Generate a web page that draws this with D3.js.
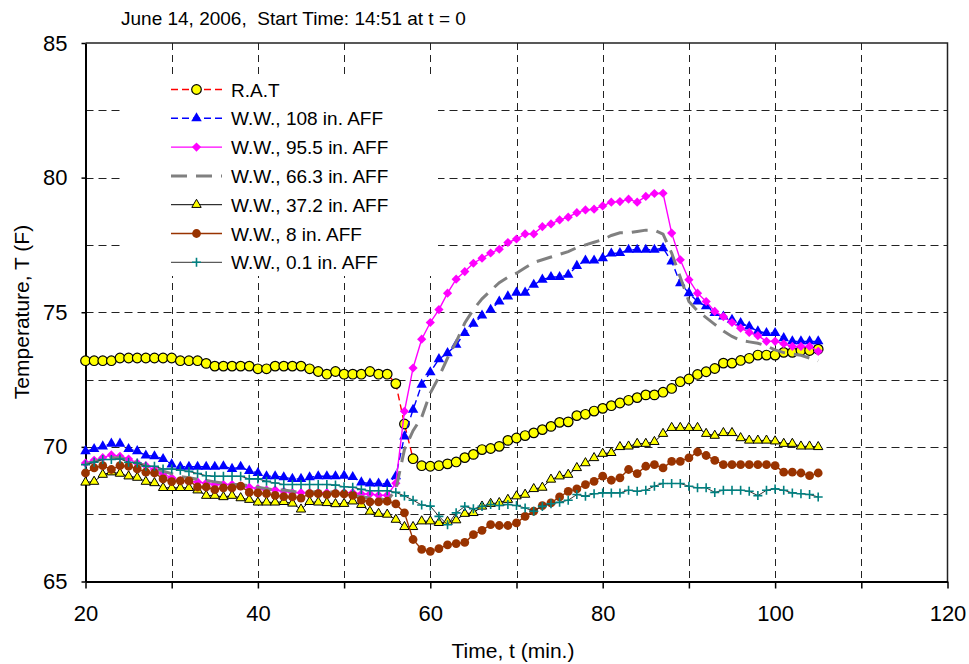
<!DOCTYPE html>
<html>
<head>
<meta charset="utf-8">
<script src="https://cdn.jsdelivr.net/npm/d3@7"></script>
<style>
  body { margin: 0; background: #fff; }
  text { font-family: Arial, "Liberation Sans", sans-serif; fill: #000; }
</style>
</head>
<body>
<svg id="chart" width="969" height="664"></svg>
<script>
// sample times, minutes after start
var times = [20,21,22,23,24,25,26,27,28,29,30,31,32,33,34,35,36,37,38,39,
  40,41,42,43,44,45,46,47,48,49,50,51,52,53,54,55,56,57,58,59,
  60,61,62,63,64,65,66,67,68,69,70,71,72,73,74,75,76,77,78,79,
  80,81,82,83,84,85,86,87,88,89,90,91,92,93,94,95,96,97,98,99,
  100,101,102,103,104,105]

// temperatures (F)
var rat = [73.2,73.2,73.2,73.2,73.3,73.3,73.3,73.3,73.3,73.3,
  73.3,73.2,73.2,73.2,73.1,73.0,73.0,73.0,73.0,73.0,
  72.9,72.9,73.0,73.0,73.0,73.0,72.9,72.8,72.7,72.8,
  72.7,72.7,72.7,72.8,72.7,72.7,72.35,70.85,69.56,69.3,
  69.28,69.3,69.37,69.44,69.6,69.72,69.9,69.94,70.02,70.24,
  70.33,70.42,70.52,70.64,70.76,70.91,70.93,71.16,71.21,71.33,
  71.43,71.53,71.63,71.73,71.83,71.93,71.93,72.03,72.17,72.42,
  72.52,72.69,72.79,72.91,73.11,73.11,73.21,73.29,73.41,73.41,
  73.41,73.51,73.51,73.58,73.58,73.63]

var ww108 = [69.84,69.92,70.02,70.12,70.12,69.92,69.84,69.68,69.65,69.55,
  69.35,69.26,69.26,69.26,69.26,69.26,69.28,69.18,69.26,69.11,
  69.03,68.91,68.91,68.87,68.81,68.81,68.87,68.91,68.91,68.91,
  68.93,68.88,68.68,68.64,68.64,68.62,68.91,70.39,71.38,72.31,
  72.77,73.26,73.48,73.79,74.23,74.57,74.88,75.09,75.40,75.59,
  75.73,75.73,76.02,76.21,76.31,76.31,76.39,76.72,76.92,76.92,
  77.01,77.18,77.20,77.32,77.32,77.32,77.32,77.38,76.89,76.08,
  75.71,75.40,75.22,74.97,74.84,74.72,74.60,74.47,74.29,74.23,
  74.23,74.04,73.92,73.92,73.92,73.92]

var ww955 = [69.4,69.5,69.6,69.7,69.65,69.55,69.4,69.3,69.15,69.0,
  68.85,68.75,68.7,68.7,68.65,68.6,68.6,68.6,68.55,68.5,
  68.45,68.4,68.4,68.35,68.3,68.3,68.3,68.3,68.3,68.3,
  68.3,68.3,68.25,68.25,68.2,68.2,68.65,71.32,72.93,74.0,
  74.62,75.1,75.71,76.23,76.51,76.82,77.01,77.2,77.34,77.59,
  77.72,77.91,77.91,78.18,78.28,78.43,78.53,78.7,78.8,78.83,
  78.95,79.09,79.11,79.2,79.09,79.3,79.41,79.42,77.94,76.95,
  76.21,75.71,75.4,75.03,74.84,74.62,74.41,74.25,74.13,73.92,
  73.92,73.83,73.73,73.73,73.73,73.55]

var ww663 = [69.35,69.45,69.55,69.6,69.6,69.5,69.4,69.3,69.2,69.1,
  69.0,68.9,68.85,68.8,68.75,68.7,68.65,68.6,68.6,68.55,
  68.5,68.45,68.4,68.4,68.35,68.3,68.3,68.35,68.35,68.3,
  68.25,68.2,68.15,68.1,68.1,68.0,68.4,69.9,70.6,71.1,
  72.0,72.6,73.3,73.9,74.6,75.1,75.5,75.8,76.1,76.3,
  76.45,76.65,76.85,76.95,77.05,77.15,77.25,77.4,77.5,77.6,
  77.7,77.85,77.95,77.95,78.0,78.05,78.05,77.9,77.2,76.3,
  75.4,75.05,74.8,74.55,74.3,74.1,73.95,73.9,73.85,73.75,
  73.6,73.5,73.45,73.4,73.3,73.2]

var ww372 = [68.68,68.71,68.97,69.06,69.01,68.91,68.86,68.71,68.66,68.48,
  68.48,68.48,68.48,68.39,68.19,68.19,68.14,68.19,68.10,68.04,
  67.94,67.94,67.94,67.96,67.9,67.68,67.96,67.94,67.92,67.88,
  67.89,67.98,67.85,67.6,67.52,67.49,67.3,67.03,67.03,67.24,
  67.24,67.18,67.22,67.28,67.52,67.55,67.79,67.89,67.92,68.04,
  68.17,68.23,68.44,68.49,68.79,68.91,68.97,69.22,69.4,69.59,
  69.75,69.78,70.0,70.02,70.12,70.12,70.19,70.49,70.71,70.71,
  70.71,70.71,70.49,70.42,70.52,70.52,70.33,70.24,70.24,70.24,
  70.21,70.12,70.12,70.02,70.02,70.0]

var ww8 = [69.03,69.22,69.3,69.16,69.3,69.28,69.18,69.06,69.03,68.81,
  68.71,68.74,68.74,68.51,68.51,68.41,68.48,68.48,68.54,68.31,
  68.29,68.26,68.2,68.15,68.14,68.1,68.26,68.26,68.23,68.26,
  68.25,68.2,68.02,67.96,67.96,67.98,67.88,67.55,66.56,66.19,
  66.12,66.22,66.36,66.41,66.45,66.74,66.9,67.11,67.08,67.08,
  67.18,67.42,67.61,67.82,67.92,68.14,68.35,68.44,68.6,68.72,
  68.91,68.76,68.85,69.16,69.01,69.28,69.34,69.22,69.46,69.46,
  69.59,69.81,69.68,69.5,69.34,69.34,69.34,69.34,69.34,69.34,
  69.3,69.06,69.06,69.03,68.93,69.03]

var ww01 = [69.34,69.43,69.53,69.53,69.55,69.43,69.4,69.28,69.28,69.18,
  69.18,69.13,69.09,69.01,68.93,68.91,68.91,68.91,68.91,68.81,
  68.81,68.72,68.66,68.6,68.6,68.6,68.6,68.6,68.6,68.58,
  68.52,68.5,68.42,68.37,68.37,68.37,68.31,68.18,68.02,67.84,
  67.8,67.42,67.11,67.55,67.79,67.7,67.79,67.86,67.82,67.86,
  67.82,67.73,67.61,67.79,67.89,67.94,68.02,68.23,68.17,68.26,
  68.29,68.29,68.29,68.39,68.35,68.39,68.54,68.64,68.64,68.64,
  68.54,68.48,68.48,68.31,68.39,68.39,68.39,68.35,68.19,68.39,
  68.44,68.39,68.29,68.26,68.23,68.14]

var seriesNames = ["R.A.T", "W.W., 108 in. AFF", "W.W., 95.5 in. AFF", "W.W., 66.3 in. AFF",
  "W.W., 37.2 in. AFF", "W.W., 8 in. AFF", "W.W., 0.1 in. AFF"]

var xTicks = [20,30,40,50,60,70,80,90,100,110,120]
var yTicks = [65,70,75,80,85]
var xGrid = [30,40,50,60,70,80,90,100,110]
var yGrid = [67.5,70,72.5,75,77.5,80,82.5]

// how each series is drawn (same order as the names)
var diamond = "M0,-4.6L4.6,0L0,4.6L-4.6,0Z"
var plus = "M-4.5,0H4.5M0,-4.5V4.5"
var styles = [
  {values: rat,   line: "#ff0000", width: 1.4, dash: "7,4",  marker: "circle",  fill: "#ffff00", mstroke: "#000"},
  {values: ww108, line: "#0000ff", width: 1.4, dash: "7,4",  marker: "tri",     fill: "#0000ff", mstroke: "none", size: 48},
  {values: ww955, line: "#ff00ff", width: 1.4, dash: null,   marker: "diamond", fill: "#ff00ff", mstroke: "none"},
  {values: ww663, line: "#808080", width: 3,   dash: "16,9", marker: null},
  {values: ww372, line: "#000000", width: 1,   dash: null,   marker: "tri",     fill: "#ffff00", mstroke: "#000", size: 38},
  {values: ww8,   line: "#993300", width: 1.4, dash: null,   marker: "dot",     fill: "#993300", mstroke: "none"},
  {values: ww01,  line: "#333333", width: 1,   dash: null,   marker: "plus",    fill: "none",    mstroke: "#008080"}
]

var svg = d3.select("#chart")

var x = d3.scaleLinear().domain([20, 120]).range([85.5, 947.5])
var y = d3.scaleLinear().domain([65, 85]).range([581.5, 43])

// grid
svg.append("g").selectAll("line").data(xGrid).join("line")
  .attr("x1", function(d) { return Math.round(x(d)) + 0.5 }).attr("x2", function(d) { return Math.round(x(d)) + 0.5 })
  .attr("y1", y(85)).attr("y2", y(65))
  .attr("stroke", "#222").attr("stroke-width", 1).attr("stroke-dasharray", "7,5")
svg.append("g").selectAll("line").data(yGrid).join("line")
  .attr("y1", function(d) { return Math.round(y(d)) + 0.5 }).attr("y2", function(d) { return Math.round(y(d)) + 0.5 })
  .attr("x1", x(20)).attr("x2", x(120))
  .attr("stroke", "#222").attr("stroke-width", 1).attr("stroke-dasharray", "8,5")

// frame (top and right)
svg.append("path")
  .attr("d", "M" + x(20) + "," + y(85) + "H" + x(120) + "V" + y(65))
  .attr("fill", "none").attr("stroke", "#222").attr("stroke-width", 1.5)

// legend background hides the grid behind it
svg.append("rect").attr("x", 124).attr("y", 75).attr("width", 314).attr("height", 201).attr("fill", "#fff")

// axes
var xAxis = d3.axisBottom(x).tickValues(xTicks).tickSize(7).tickSizeOuter(0).tickPadding(17)
  .tickFormat(function(d) { return d % 20 === 0 ? d : "" })
var gx = svg.append("g").attr("transform", "translate(0," + y(65) + ")").call(xAxis)
gx.select(".domain").attr("stroke-width", 2)
gx.selectAll(".tick line").attr("stroke-width", 1.5)
gx.selectAll("text").attr("font-size", 22).attr("font-family", "Arial, 'Liberation Sans', sans-serif")

var yAxis = d3.axisLeft(y).tickValues(yTicks).tickSize(4).tickSizeOuter(0).tickPadding(14)
var gy = svg.append("g").attr("transform", "translate(" + x(20) + ",0)").call(yAxis)
gy.select(".domain").attr("stroke-width", 2)
gy.selectAll(".tick line").attr("stroke-width", 1.5)
gy.selectAll("text").attr("font-size", 22).attr("font-family", "Arial, 'Liberation Sans', sans-serif")

// markers
function drawMarker(g, s, cx, cy) {
  if (s.marker === "circle") {
    g.append("circle").attr("cx", cx).attr("cy", cy).attr("r", 4.8)
      .attr("fill", s.fill).attr("stroke", s.mstroke).attr("stroke-width", 1.2)
  } else if (s.marker === "dot") {
    g.append("circle").attr("cx", cx).attr("cy", cy).attr("r", 4.4).attr("fill", s.fill)
  } else if (s.marker === "tri") {
    g.append("path").attr("d", d3.symbol(d3.symbolTriangle, s.size)())
      .attr("transform", "translate(" + cx + "," + cy + ")")
      .attr("fill", s.fill).attr("stroke", s.mstroke).attr("stroke-width", 1)
  } else if (s.marker === "diamond") {
    g.append("path").attr("d", diamond).attr("transform", "translate(" + cx + "," + cy + ")").attr("fill", s.fill)
  } else if (s.marker === "plus") {
    g.append("path").attr("d", plus).attr("transform", "translate(" + cx + "," + cy + ")")
      .attr("fill", "none").attr("stroke", s.mstroke).attr("stroke-width", 1.6)
  }
}

// series
var line = d3.line().x(function(d) { return x(d[0]) }).y(function(d) { return y(d[1]) })
styles.forEach(function(s) {
  var pts = times.map(function(t, i) { return [t, s.values[i]] })
  var g = svg.append("g")
  g.append("path").attr("d", line(pts)).attr("fill", "none")
    .attr("stroke", s.line).attr("stroke-width", s.width)
    .attr("stroke-dasharray", s.dash)
  if (s.marker) {
    pts.forEach(function(p) { drawMarker(g, s, x(p[0]), y(p[1])) })
  }
})

// legend
var leg = svg.append("g")
styles.forEach(function(s, i) {
  var cy = 89.5 + i * 28.8
  var row = leg.append("g")
  row.append("line").attr("x1", 171).attr("x2", 222).attr("y1", cy).attr("y2", cy)
    .attr("stroke", s.line).attr("stroke-width", s.width).attr("stroke-dasharray", s.dash)
  if (s.marker) drawMarker(row, s, 196.5, cy)
  row.append("text").attr("x", 231).attr("y", cy + 7).attr("font-size", 19).text(seriesNames[i])
})

// titles
svg.append("text").attr("x", 121).attr("y", 25).attr("font-size", 19)
  .text("June 14, 2006,  Start Time: 14:51 at t = 0").style("white-space", "pre")
svg.append("text").attr("x", 513).attr("y", 658).attr("text-anchor", "middle").attr("font-size", 21)
  .text("Time, t (min.)")
svg.append("text").attr("transform", "translate(29,312) rotate(-90)").attr("text-anchor", "middle")
  .attr("font-size", 21).text("Temperature, T (F)")
</script>
</body>
</html>
